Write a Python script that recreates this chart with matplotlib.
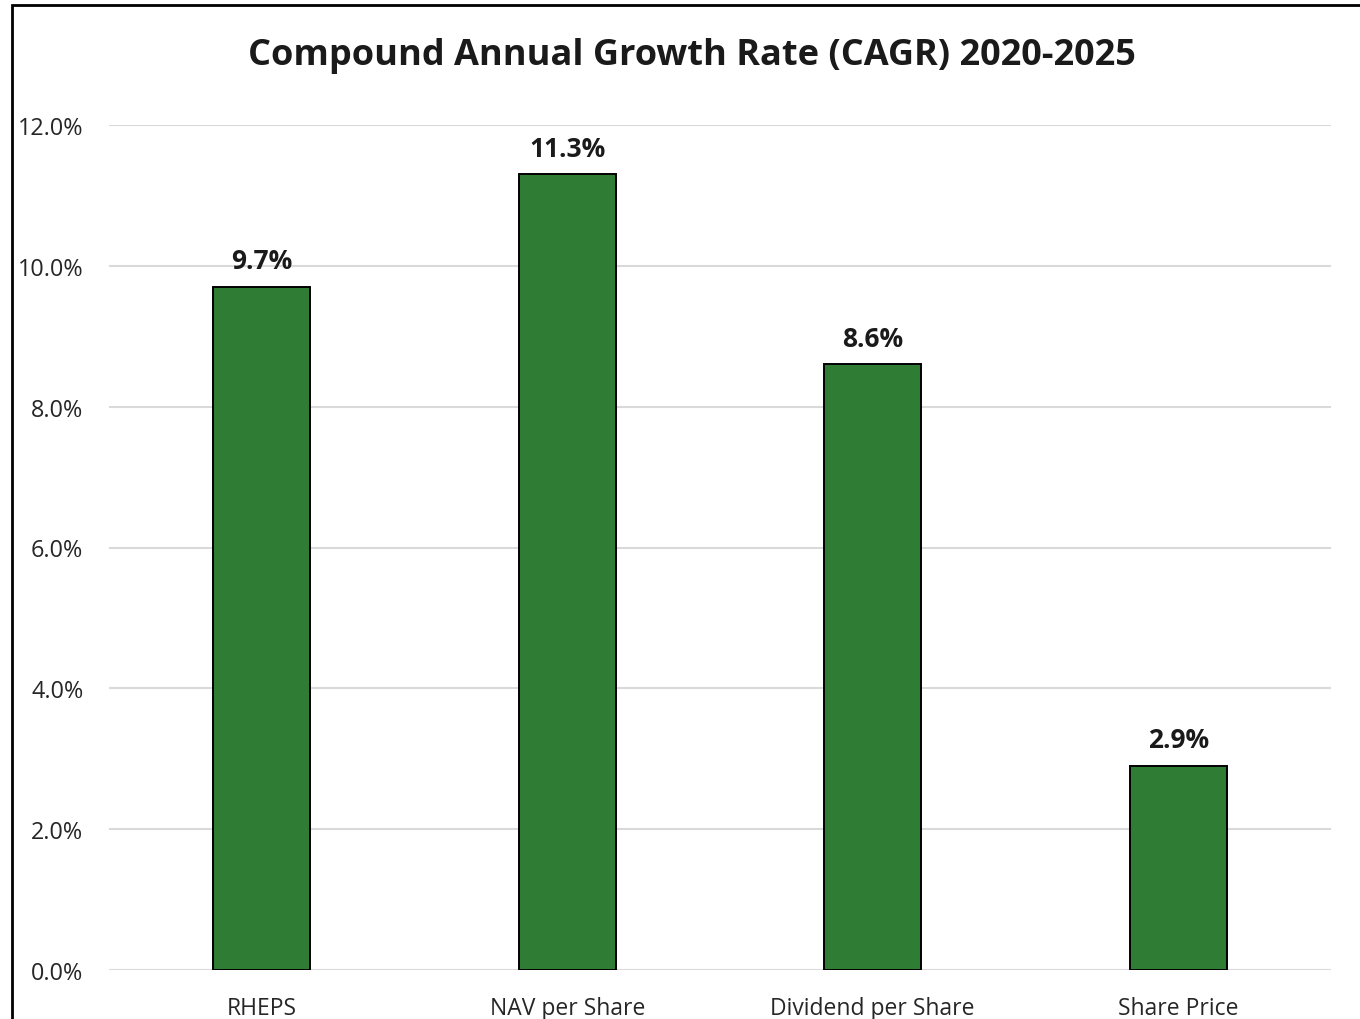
import matplotlib
matplotlib.use("Agg")
import matplotlib.pyplot as plt
from matplotlib.patches import Rectangle
from matplotlib.ticker import FuncFormatter

categories = ["RHEPS", "NAV per Share", "Dividend per Share", "Share Price"]
cagr = [9.7, 11.3, 8.6, 2.9]
title = "Compound Annual Growth Rate (CAGR) 2020-2025"
y_ticks = [0, 2, 4, 6, 8, 10, 12]

plt.rcParams["font.family"] = ["Open Sans", "DejaVu Sans"]

W, H = 1360, 1020
fig = plt.figure(figsize=(W / 100, H / 100), dpi=100)

# plot area in pixel terms
left, right, top, bottom = 109, 1331, 126, 971
ax = fig.add_axes([left / W, 1 - bottom / H, (right - left) / W, (bottom - top) / H])

x = range(len(categories))
bars = ax.bar(x, cagr, width=0.318, color="#2F7D34", edgecolor="black", linewidth=1.4, zorder=3)

for xi, v in zip(x, cagr):
    ax.annotate(f"{v:.1f}%", (xi, v), xytext=(0, 9), textcoords="offset points",
                ha="center", va="bottom", fontsize=19, fontweight="bold", color="#1a1a1a")

ax.set_xlim(-0.5, len(categories) - 0.5)
ax.set_ylim(0, 12)
ax.set_yticks(y_ticks)
ax.yaxis.set_major_formatter(FuncFormatter(lambda v, p: f"{v:.1f}%"))
ax.set_xticks(list(x))
ax.set_xticklabels(categories)
ax.grid(axis="y", color="#d9d9d9", linewidth=1.5, zorder=0)
for s in ax.spines.values():
    s.set_visible(False)
ax.tick_params(axis="y", length=0, pad=18.5, labelsize=16.8, labelcolor="#262626")
ax.tick_params(axis="x", length=0, pad=19, labelsize=16.5, labelcolor="#262626")

fig.text(692 / W, 1 - 56 / H, title, ha="center", va="center", fontsize=26,
         fontweight="bold", color="#1a1a1a")

# outer chart border (left and top edges visible)
fig.patches.append(Rectangle((11.5 / W, -0.1), 1.2, 1 - 5.5 / H + 0.1, transform=fig.transFigure,
                             fill=False, edgecolor="black", linewidth=2, zorder=10))

fig.savefig("out.png", dpi=100)
